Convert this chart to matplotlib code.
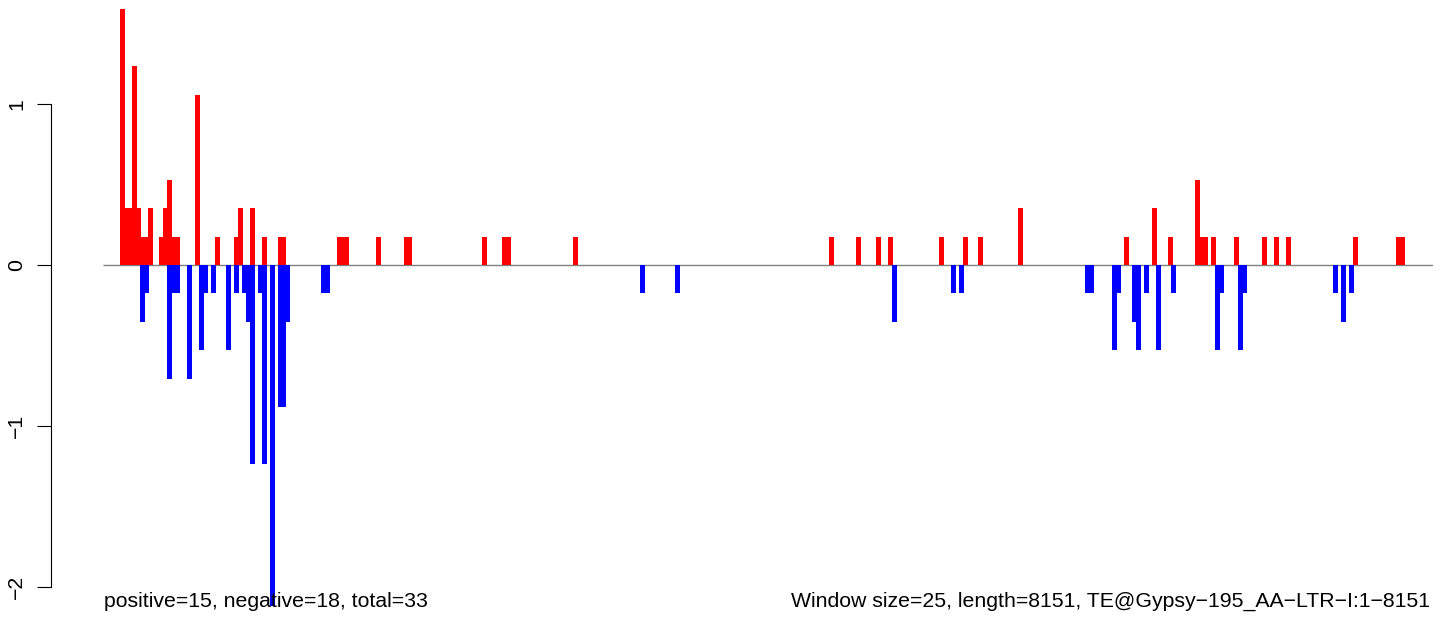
"""
Window score barplot: positive windows up in red, negative windows down in blue
"""

import matplotlib
import matplotlib.pyplot as plt

matplotlib.use("Agg")

# window index (25 bp windows) and score for each non-zero window
pos_window = [0, 1, 2, 3, 4, 5, 6, 7, 10, 11, 12, 13, 14, 19, 24, 29, 30, 33, 36,
              40, 41, 55, 56, 57, 65, 72, 73, 92, 97, 98, 115, 180, 187, 192, 195,
              208, 214, 218, 228, 255, 262, 266, 273, 274, 275, 277, 283, 290, 293,
              296, 313, 324, 325]
pos_value = [1.588, 0.353, 0.353, 1.235, 0.353, 0.176, 0.176, 0.353, 0.176, 0.353,
             0.529, 0.176, 0.176, 1.059, 0.176, 0.176, 0.353, 0.353, 0.176, 0.176,
             0.176, 0.176, 0.176, 0.176, 0.176, 0.176, 0.176, 0.176, 0.176, 0.176,
             0.176, 0.176, 0.176, 0.176, 0.176, 0.176, 0.176, 0.176, 0.353, 0.176,
             0.353, 0.176, 0.529, 0.176, 0.176, 0.176, 0.176, 0.176, 0.176, 0.176,
             0.176, 0.176, 0.176]

neg_window = [5, 6, 12, 13, 14, 17, 20, 21, 23, 27, 29, 31, 32, 33, 35, 36, 38, 40,
              41, 42, 51, 52, 132, 141, 196, 211, 213, 245, 246, 252, 253, 257, 258,
              260, 263, 267, 278, 279, 284, 285, 308, 310, 312]
neg_value = [-0.353, -0.176, -0.706, -0.176, -0.176, -0.706, -0.529, -0.176, -0.176,
             -0.529, -0.176, -0.176, -0.353, -1.235, -0.176, -1.235, -2.118, -0.882,
             -0.882, -0.353, -0.176, -0.176, -0.176, -0.176, -0.353, -0.176, -0.176,
             -0.176, -0.176, -0.529, -0.176, -0.353, -0.529, -0.176, -0.529, -0.176,
             -0.529, -0.176, -0.529, -0.176, -0.176, -0.353, -0.176]

y_ticks = [-2, -1, 0, 1]
left_note = "positive=15, negative=18, total=33"
right_note = "Window size=25, length=8151, TE@Gypsy\u2212195_AA\u2212LTR\u2212I:1\u22128151"

W, H = 1444, 618
plt.rcParams["font.family"] = ["Liberation Sans", "DejaVu Sans"]
plt.rcParams["font.size"] = 15.3

fig = plt.figure(figsize=(W / 100, H / 100), dpi=100)
ax = fig.add_axes([51 / W, 0, (1433 - 51) / W, 1])

px = 3.938  # pixels per window
ax.set_xlim((51 - 122.5) / px, (1433 - 122.5) / px)
ax.set_ylim(-(H - 265) / 161, 265 / 161)

ax.hlines(0, (103 - 122.5) / px, (1433 - 122.5) / px, color="#808080", lw=1.0, zorder=1)
ax.bar(pos_window, pos_value, width=5 / px, color="#FF0000", linewidth=0, zorder=2)
ax.bar(neg_window, neg_value, width=5 / px, color="#0000FF", linewidth=0, zorder=2)

for side in ("top", "right", "bottom"):
    ax.spines[side].set_visible(False)
ax.spines["left"].set_bounds(-2, 1)
ax.spines["left"].set_linewidth(0.8)
ax.set_xticks([])
ax.set_yticks(y_ticks)
ax.set_yticklabels([str(t).replace("-", "\u2212") for t in y_ticks],
                   rotation=90, va="center")
ax.tick_params(axis="y", length=10, width=0.8, pad=8)
ax.patch.set_alpha(0)

fig.text(104 / W, 1 - 607 / H, left_note, ha="left", va="baseline")
fig.text(1430 / W, 1 - 607 / H, right_note, ha="right", va="baseline")

fig.savefig("out.png", dpi=100)
